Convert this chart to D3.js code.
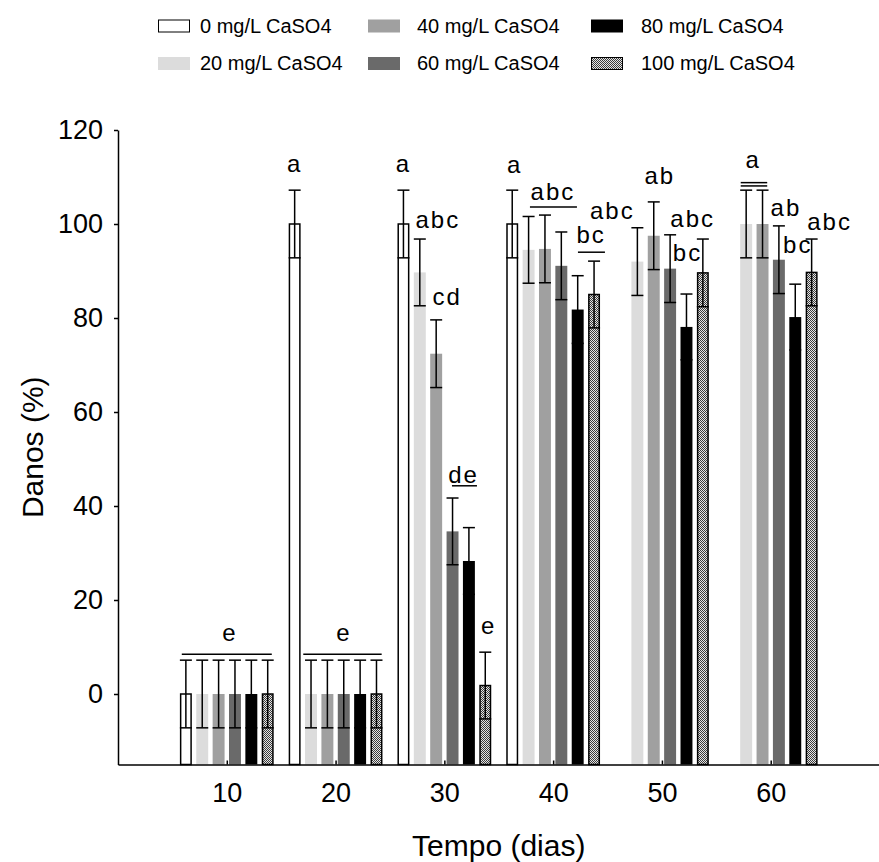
<!DOCTYPE html>
<html>
<head>
<meta charset="utf-8">
<script src="https://cdn.jsdelivr.net/npm/d3@7"></script>
<style>
  html, body { margin: 0; padding: 0; background: #fff; }
  svg { display: block; font-family: Arial, "Liberation Sans", sans-serif; }
</style>
</head>
<body>
<svg id="chart" width="879" height="862"></svg>
<script>
// ---- data ----
const days = [10, 20, 30, 40, 50, 60];
const doses = ["0 mg/L CaSO4", "20 mg/L CaSO4", "40 mg/L CaSO4", "60 mg/L CaSO4", "80 mg/L CaSO4", "100 mg/L CaSO4"];

// mean damage (%) per sampling day, one array per CaSO4 dose (null = no bar)
const dose0   = [0, 100, 100, 100, null, null];
const dose20  = [0, 0, 89.7, 94.5, 92.0, 100];
const dose40  = [0, 0, 72.4, 94.7, 97.5, 100];
const dose60  = [0, 0, 34.6, 91.1, 90.5, 92.4];
const dose80  = [0, 0, 28.3, 81.8, 78.1, 80.2];
const dose100 = [0, 0, 1.8, 85.0, 89.6, 89.7];

// error (± %) for each mean
const err0   = [7.2, 7.2, 7.2, 7.2, null, null];
const err20  = [7.2, 7.2, 7.1, 7.1, 7.2, 7.2];
const err40  = [7.2, 7.2, 7.2, 7.2, 7.2, 7.2];
const err60  = [7.2, 7.2, 7.1, 7.2, 7.2, 7.2];
const err80  = [7.2, 7.2, 7.1, 7.2, 7.0, 7.0];
const err100 = [7.2, 7.2, 7.1, 7.1, 7.2, 7.1];

const yTicks = [0, 20, 40, 60, 80, 100, 120];
const xTicks = [10, 20, 30, 40, 50, 60];

// significance letters: day, dose index it sits over, text
const letters = [
  { day: 10, s: 0, text: "e" },
  { day: 20, s: 1, text: "e" },
  { day: 20, s: 0, text: "a" },
  { day: 30, s: 0, text: "a" },
  { day: 30, s: 1, text: "abc" },
  { day: 30, s: 2, text: "cd" },
  { day: 30, s: 3, text: "de" },
  { day: 30, s: 5, text: "e" },
  { day: 40, s: 0, text: "a" },
  { day: 40, s: 2, text: "abc" },
  { day: 40, s: 5, text: "bc" },
  { day: 50, s: 1, text: "abc" },
  { day: 50, s: 2, text: "ab" },
  { day: 50, s: 3, text: "abc" },
  { day: 50, s: 4, text: "bc" },
  { day: 60, s: 1, text: "a" },
  { day: 60, s: 3, text: "ab" },
  { day: 60, s: 4, text: "bc" },
  { day: 60, s: 5, text: "abc" }
];

// ---- layout ----
// letter placement: dx from bar centre, dy = baseline height above the error cap (px)
const letterPlace = [
  { dx: 44, dy: 18.7 }, { dx: 33, dy: 18.7 },
  { dx: 0, dy: 18 },
  { dx: 0, dy: 18 }, { dx: 18, dy: 11.4 }, { dx: 11, dy: 15.3 }, { dx: 11, dy: 15.4 }, { dx: 3.5, dy: 18 },
  { dx: 2.5, dy: 17 }, { dx: 8, dy: 15 }, { dx: -3, dy: 18.6 },
  { dx: -25, dy: 9 }, { dx: 6, dy: 17.6 }, { dx: 22.6, dy: 8.2 }, { dx: 1, dy: 33.4 },
  { dx: 7, dy: 22 }, { dx: 7, dy: 10 }, { dx: 2.5, dy: 31.6 }, { dx: 18, dy: 9.4 }
];
// horizontal grouping lines under letters: day, level (%), x offsets from group centre (px)
const groupLines = [
  { day: 10, level: 8.45, x1: -45, x2: 45 },
  { day: 20, level: 8.45, x1: -32.3, x2: 46.1 },
  { day: 30, level: 44.3, x1: 7.6, x2: 32.6 },
  { day: 40, level: 103.6, x1: -23.2, x2: 23.8 },
  { day: 40, level: 94.0, x1: 24.8, x2: 51.8 },
  { day: 60, level: 108.8, x1: -30, x2: -3.5 },
  { day: 60, level: 108.1, x1: -30, x2: -3.5 }
];

const means = [dose0, dose20, dose40, dose60, dose80, dose100];
const errs = [err0, err20, err40, err60, err80, err100];
const fills = ["#ffffff", "#dcdcdc", "#a0a0a0", "#6a6a6a", "#000000", "url(#dots)"];
const outlined = [true, false, false, false, false, true];

const svg = d3.select("#chart");

// fine dotted texture for the highest dose
const defs = svg.append("defs");
const pat = defs.append("pattern").attr("id", "dots")
  .attr("patternUnits", "userSpaceOnUse").attr("width", 2).attr("height", 2);
pat.append("rect").attr("width", 2).attr("height", 2).attr("fill", "#e6e6e6");
pat.append("rect").attr("x", 0).attr("y", 0).attr("width", 1).attr("height", 1).attr("fill", "#3c3c3c");
pat.append("rect").attr("x", 1).attr("y", 1).attr("width", 1).attr("height", 1).attr("fill", "#3c3c3c");

// ---- scales ----
const x = d3.scaleLinear().domain([0, 70]).range([118, 879.5]);
const y = d3.scaleLinear().domain([-15, 120]).range([764.5, 130]);
const inner = d3.scaleBand().domain(d3.range(doses.length))
  .range([-49.1, 49.1]).paddingInner(0.27).paddingOuter(0.135);
const bw = inner.bandwidth();
const barX = (di, s) => x(days[di]) + inner(s);
const barC = (di, s) => barX(di, s) + bw / 2;

// ---- bars ----
const cells = [];
means.forEach((arr, s) => arr.forEach((v, di) => {
  if (v !== null) cells.push({ s, di, v, e: errs[s][di] });
}));

const gBars = svg.append("g");
gBars.selectAll("rect").data(cells).join("rect")
  .attr("x", d => barX(d.di, d.s) + (outlined[d.s] ? 0.75 : 0))
  .attr("width", d => bw - (outlined[d.s] ? 1.5 : 0))
  .attr("y", d => y(d.v))
  .attr("height", d => y.range()[0] - y(d.v))
  .attr("fill", d => fills[d.s])
  .attr("stroke", d => outlined[d.s] ? "#000" : "none")
  .attr("stroke-width", 1.5);

// ---- error bars ----
const capW = 12;
const gErr = svg.append("g").attr("stroke", "#000").attr("stroke-width", 1.5);
cells.forEach(d => {
  const cx = barC(d.di, d.s);
  const y1 = y(d.v + d.e), y2 = y(d.v - d.e);
  gErr.append("line").attr("x1", cx).attr("x2", cx).attr("y1", y1).attr("y2", y2);
  gErr.append("line").attr("x1", cx - capW / 2).attr("x2", cx + capW / 2).attr("y1", y1).attr("y2", y1);
  gErr.append("line").attr("x1", cx - capW / 2).attr("x2", cx + capW / 2).attr("y1", y2).attr("y2", y2);
});

// ---- letters ----
const gLet = svg.append("g").attr("font-size", 24).attr("fill", "#000")
  .attr("text-anchor", "middle").attr("letter-spacing", "2px");
letters.forEach((l, i) => {
  const di = days.indexOf(l.day);
  const p = letterPlace[i];
  const top = means[l.s][di] + errs[l.s][di];
  gLet.append("text")
    .attr("x", barC(di, l.s) + p.dx)
    .attr("y", y(top) - p.dy)
    .text(l.text);
});

const gLines = svg.append("g").attr("stroke", "#000").attr("stroke-width", 1.5);
gLines.selectAll("line").data(groupLines).join("line")
  .attr("x1", d => x(d.day) + d.x1).attr("x2", d => x(d.day) + d.x2)
  .attr("y1", d => y(d.level)).attr("y2", d => y(d.level));

// ---- axes ----
const yAxis = svg.append("g").attr("transform", `translate(${x(0)},0)`)
  .call(d3.axisLeft(y).tickValues(yTicks).tickSize(4).tickSizeOuter(0).tickPadding(11));
yAxis.select(".domain").attr("stroke-width", 1.5);
yAxis.selectAll(".tick line").attr("stroke-width", 1.5);
yAxis.selectAll("text").attr("font-size", 27).attr("font-family", "Arial, 'Liberation Sans', sans-serif");

const xAxis = svg.append("g").attr("transform", `translate(0,${y(-15)})`)
  .call(d3.axisBottom(x).tickValues(xTicks).tickSize(-4).tickSizeOuter(0).tickPadding(18));
xAxis.select(".domain").attr("stroke-width", 1.5);
xAxis.selectAll(".tick line").attr("stroke-width", 1.5);
xAxis.selectAll("text").attr("font-size", 27).attr("font-family", "Arial, 'Liberation Sans', sans-serif");

// axis titles
svg.append("text")
  .attr("transform", `translate(43,${(y(120) + y(-15)) / 2}) rotate(-90)`)
  .attr("text-anchor", "middle").attr("font-size", 30)
  .text("Danos (%)");
svg.append("text")
  .attr("x", (x(0) + x(70)) / 2).attr("y", 856)
  .attr("text-anchor", "middle").attr("font-size", 30)
  .text("Tempo (dias)");

// ---- legend ----
const legendPos = [
  { sx: 158, tx: 200, row: 0 },
  { sx: 158, tx: 200, row: 1 },
  { sx: 368, tx: 417, row: 0 },
  { sx: 368, tx: 417, row: 1 },
  { sx: 591, tx: 641, row: 0 },
  { sx: 591, tx: 641, row: 1 }
];
const rowTop = [19.5, 57];
const rowBase = [33, 70];
const gLeg = svg.append("g");
doses.forEach((name, s) => {
  const p = legendPos[s];
  gLeg.append("rect")
    .attr("x", p.sx + (outlined[s] ? 0.5 : 0)).attr("y", rowTop[p.row] + (outlined[s] ? 0.5 : 0))
    .attr("width", 32 - (outlined[s] ? 1 : 0)).attr("height", 13 - (outlined[s] ? 1 : 0))
    .attr("fill", fills[s])
    .attr("stroke", outlined[s] ? "#000" : "none").attr("stroke-width", 1);
  gLeg.append("text").attr("x", p.tx).attr("y", rowBase[p.row])
    .attr("font-size", 20).text(name);
});
</script>
</body>
</html>
